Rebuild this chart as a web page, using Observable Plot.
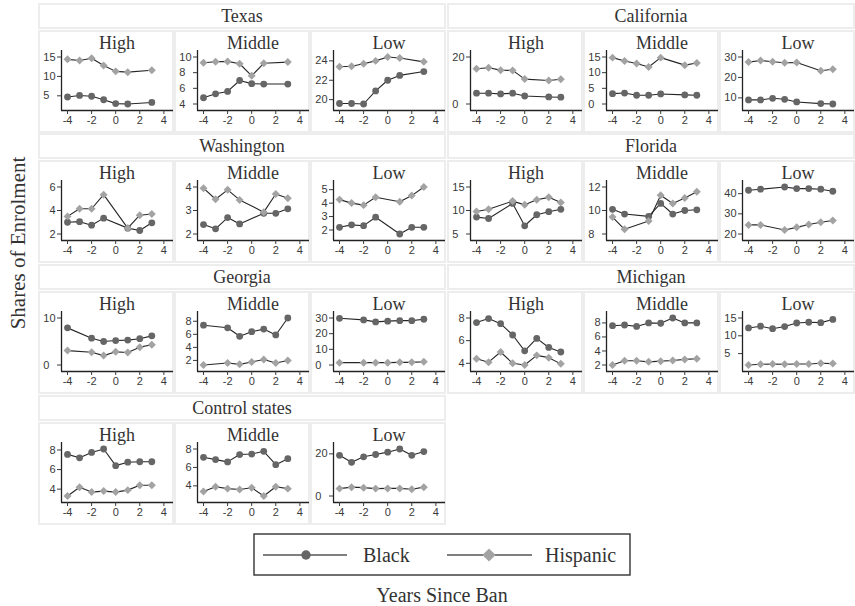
<!DOCTYPE html>
<html><head><meta charset="utf-8">
<script src="https://cdn.jsdelivr.net/npm/d3@7"></script>
<script src="https://cdn.jsdelivr.net/npm/@observablehq/plot@0.6"></script>
<style>
body{margin:0;background:#fff;}
#root{position:relative;width:855px;height:606px;overflow:hidden;font-family:"Liberation Serif","Times New Roman",serif;color:#333;}
.strip{position:absolute;box-sizing:border-box;border:2px solid #ededed;text-align:center;font-size:18px;line-height:22px;}
.pbox{position:absolute;box-sizing:border-box;border:2px solid #ededed;}
.sub{position:absolute;text-align:center;font-size:18px;line-height:22px;}
.ps{position:absolute;}
</style></head><body><div id="root"></div>
<script>
// ---------- data ----------
const levels = ["High", "Middle", "Low"];
const seriesNames = ["Black", "Hispanic"];
const xTicks = [-4, -2, 0, 2, 4];

const texasYears = [-4, -3, -2, -1, 0, 1, 3];
const texasBlack = [[4.7, 5.1, 4.9, 4.0, 3.0, 2.9, 3.3], [4.8, 5.3, 5.6, 7.0, 6.6, 6.55, 6.55], [19.6, 19.6, 19.55, 20.9, 22.0, 22.5, 22.9]];
const texasHispanic = [[14.4, 14.1, 14.7, 12.8, 11.3, 11.1, 11.6], [9.27, 9.4, 9.44, 9.14, 7.6, 9.2, 9.35], [23.4, 23.45, 23.7, 24.0, 24.4, 24.3, 23.9]];
const texasTicks = [[5, 10, 15], [4, 6, 8, 10], [20, 22, 24]];

const californiaYears = [-4, -3, -2, -1, 0, 2, 3];
const californiaBlack = [[4.6, 4.6, 4.3, 4.6, 3.4, 3.0, 2.9], [3.3, 3.5, 2.8, 2.8, 3.2, 2.9, 2.8], [9.0, 9.0, 9.8, 9.3, 8.0, 7.2, 7.0]];
const californiaHispanic = [[15.0, 15.4, 14.4, 14.3, 10.6, 10.0, 10.5], [14.8, 13.7, 12.9, 11.8, 14.8, 12.4, 13.1], [27.5, 28.3, 27.7, 27.2, 27.3, 23.3, 24.0]];
const californiaTicks = [[0, 20], [0, 5, 10, 15], [10, 20, 30]];

const washingtonYears = [-4, -3, -2, -1, 1, 2, 3];
const washingtonBlack = [[3.0, 3.05, 2.75, 3.35, 2.5, 2.3, 2.95], [2.4, 2.22, 2.7, 2.43, 2.88, 2.88, 3.07], [2.2, 2.38, 2.32, 2.95, 1.7, 2.2, 2.2]];
const washingtonHispanic = [[3.5, 4.15, 4.15, 5.35, 2.5, 3.6, 3.7], [3.95, 3.48, 3.88, 3.45, 2.93, 3.7, 3.52], [4.26, 4.0, 3.85, 4.44, 4.1, 4.56, 5.2]];
const washingtonTicks = [[2, 4, 6], [2, 3, 4], [2, 3, 4, 5]];

const floridaYears = [-4, -3, -1, 0, 1, 2, 3];
const floridaBlack = [[8.6, 8.3, 11.5, 6.75, 9.1, 9.75, 10.25], [10.1, 9.7, 9.5, 10.6, 9.7, 10.0, 10.06], [41.7, 42.2, 43.3, 42.5, 42.5, 42.2, 41.2]];
const floridaHispanic = [[9.8, 10.25, 12.0, 11.2, 12.3, 12.8, 11.7], [9.44, 8.4, 9.1, 11.3, 10.6, 11.06, 11.6], [24.5, 24.5, 22.0, 23.3, 24.7, 25.8, 26.7]];
const floridaTicks = [[5, 10, 15], [8, 10, 12], [20, 30, 40]];

const georgiaYears = [-4, -2, -1, 0, 1, 2, 3];
const georgiaBlack = [[7.9, 5.7, 5.0, 5.2, 5.3, 5.6, 6.2], [7.4, 7.0, 5.7, 6.4, 6.8, 5.9, 8.5], [29.8, 28.8, 27.5, 28.0, 28.3, 28.3, 29.2]];
const georgiaHispanic = [[3.06, 2.7, 2.0, 2.8, 2.65, 3.8, 4.3], [1.3, 1.6, 1.4, 1.76, 2.15, 1.6, 2.0], [1.5, 1.5, 1.5, 1.5, 1.7, 1.7, 2.1]];
const georgiaTicks = [[0, 10], [2, 4, 6, 8], [0, 10, 20, 30]];

const michiganYears = [-4, -3, -2, -1, 0, 1, 2, 3];
const michiganBlack = [[7.6, 7.95, 7.5, 6.5, 5.1, 6.2, 5.4, 5.0], [7.6, 7.7, 7.5, 8.0, 7.95, 8.7, 8.0, 8.0], [12.2, 12.7, 12.0, 12.6, 13.6, 13.8, 13.7, 14.6]];
const michiganHispanic = [[4.4, 4.1, 5.0, 4.0, 3.85, 4.7, 4.5, 3.95], [2.0, 2.6, 2.6, 2.45, 2.55, 2.65, 2.8, 2.9], [1.8, 2.0, 2.1, 2.0, 2.1, 2.1, 2.3, 2.2]];
const michiganTicks = [[4, 6, 8], [2, 4, 6, 8], [5, 10, 15]];

const controlYears = [-4, -3, -2, -1, 0, 1, 2, 3];
const controlBlack = [[7.55, 7.2, 7.75, 8.1, 6.4, 6.75, 6.8, 6.8], [7.1, 6.85, 6.6, 7.4, 7.45, 7.75, 6.3, 6.95], [19.3, 16.0, 18.6, 19.7, 20.8, 22.3, 19.3, 21.1]];
const controlHispanic = [[3.3, 4.2, 3.7, 3.8, 3.7, 3.9, 4.4, 4.4], [3.4, 3.9, 3.7, 3.6, 3.8, 2.9, 3.9, 3.7], [3.5, 4.2, 3.96, 3.5, 3.6, 3.6, 3.2, 4.2]];
const controlTicks = [[4, 6, 8], [4, 6, 8], [0, 20]];

const groups = [
  {name: "Texas", years: texasYears, black: texasBlack, hisp: texasHispanic, ticks: texasTicks},
  {name: "California", years: californiaYears, black: californiaBlack, hisp: californiaHispanic, ticks: californiaTicks},
  {name: "Washington", years: washingtonYears, black: washingtonBlack, hisp: washingtonHispanic, ticks: washingtonTicks},
  {name: "Florida", years: floridaYears, black: floridaBlack, hisp: floridaHispanic, ticks: floridaTicks},
  {name: "Georgia", years: georgiaYears, black: georgiaBlack, hisp: georgiaHispanic, ticks: georgiaTicks},
  {name: "Michigan", years: michiganYears, black: michiganBlack, hisp: michiganHispanic, ticks: michiganTicks},
  {name: "Control states", years: controlYears, black: controlBlack, hisp: controlHispanic, ticks: controlTicks}
];

// ---------- style ----------
const BLACK_FILL = "#666666", HISP_FILL = "#a3a3a3", LINE = "#262626", AXIS = "#222";
const root = document.getElementById("root");
function div(cls, x, y, w, h, text) {
  const d = document.createElement("div");
  d.className = cls;
  Object.assign(d.style, {left: x + "px", top: y + "px", width: w + "px"});
  if (h != null) d.style.height = h + "px";
  if (text != null) d.textContent = text;
  root.appendChild(d);
  return d;
}

function panel(years, b, h, ticks) {
  const xdom = [-4.5, 4.8];
  const ext = d3.extent([...b, ...h, ...ticks]);
  const pad = (ext[1] - ext[0]) * 6.5 / 47;
  const ydom = [ext[0] - pad, ext[1] + pad];
  const db = years.map((x, i) => ({x, y: b[i]}));
  const dh = years.map((x, i) => ({x, y: h[i]}));
  const maxLen = d3.max(ticks, t => String(t).length);
  return Plot.plot({
    width: 136, height: 100,
    marginLeft: 23, marginRight: 1, marginTop: 17, marginBottom: 23,
    style: {fontFamily: "'Liberation Sans', Arial, sans-serif", fontSize: "11px", color: "#3a3a3a", background: "transparent", overflow: "visible"},
    x: {domain: xdom},
    y: {domain: ydom},
    marks: [
      Plot.ruleX([xdom[0]], {stroke: AXIS, strokeWidth: 1.3}),
      Plot.ruleY([ydom[0]], {stroke: AXIS, strokeWidth: 1.3}),
      Plot.axisX({ticks: xTicks, tickSize: 4, tickPadding: 2, tickFormat: d => String(d), label: null}),
      Plot.axisY({ticks: ticks, tickSize: 4, tickPadding: 2 + maxLen * 6.1, tickFormat: d => String(d), label: null,
                  textAnchor: "start"}),
      Plot.line(db, {x: "x", y: "y", stroke: LINE, strokeWidth: 1.1}),
      Plot.line(dh, {x: "x", y: "y", stroke: LINE, strokeWidth: 1.1}),
      Plot.dot(db, {x: "x", y: "y", r: 3.4, fill: BLACK_FILL, symbol: "circle"}),
      Plot.dot(dh, {x: "x", y: "y", r: 3.6, fill: HISP_FILL, symbol: "diamond2"})
    ]
  });
}

// ---------- layout ----------
const colLeft = [38, 447], rowTop = [3, 133, 264, 395], GW = 408, PW = 136;
groups.forEach((g, gi) => {
  const gx = colLeft[gi % 2], gy = rowTop[Math.floor(gi / 2)];
  div("strip", gx, gy, GW, 26, g.name);
  levels.forEach((lv, k) => {
    const px = gx + k * PW;
    div("pbox", px, gy + 27, PW, 103);
    const holder = div("ps", px, gy + 30, PW, 100);
    holder.appendChild(panel(g.years, g.black[k], g.hisp[k], g.ticks[k]));
    div("sub", px + 23, gy + 29, PW - 24, 22, lv);
  });
});

// y title
const yt = div("", 0, 0, 200, 26, "Shares of Enrolment");
Object.assign(yt.style, {position: "absolute", left: (18 - 100) + "px", top: (243 - 13) + "px", textAlign: "center", fontSize: "21px", lineHeight: "26px", transform: "rotate(-90deg)"});
// x title
const xt = div("", 292, 582, 300, 26, "Years Since Ban");
Object.assign(xt.style, {position: "absolute", textAlign: "center", fontSize: "20px", lineHeight: "26px"});

// legend
const leg = d3.create("svg").attr("width", 380).attr("height", 45)
  .style("position", "absolute").style("left", "252px").style("top", "532px");
leg.append("rect").attr("x", 2).attr("y", 2).attr("width", 376).attr("height", 41)
  .attr("fill", "none").attr("stroke", "#333").attr("stroke-width", 1.4);
const items = [
  {name: seriesNames[0], x1: 11, x2: 95, cx: 54, sym: d3.symbolCircle, size: 70, fill: BLACK_FILL, tx: 111},
  {name: seriesNames[1], x1: 195, x2: 280, cx: 237, sym: d3.symbolDiamond2, size: 110, fill: HISP_FILL, tx: 293}
];
items.forEach(it => {
  leg.append("line").attr("x1", it.x1).attr("x2", it.x2).attr("y1", 23).attr("y2", 23)
    .attr("stroke", "#555").attr("stroke-width", 1.4);
  leg.append("path").attr("d", d3.symbol(it.sym, it.size)()).attr("transform", `translate(${it.cx},23)`).attr("fill", it.fill);
  leg.append("text").attr("x", it.tx).attr("y", 30).attr("font-size", 20)
    .attr("font-family", "'Liberation Serif', serif").attr("fill", "#333").text(it.name);
});
root.appendChild(leg.node());
</script></body></html>
